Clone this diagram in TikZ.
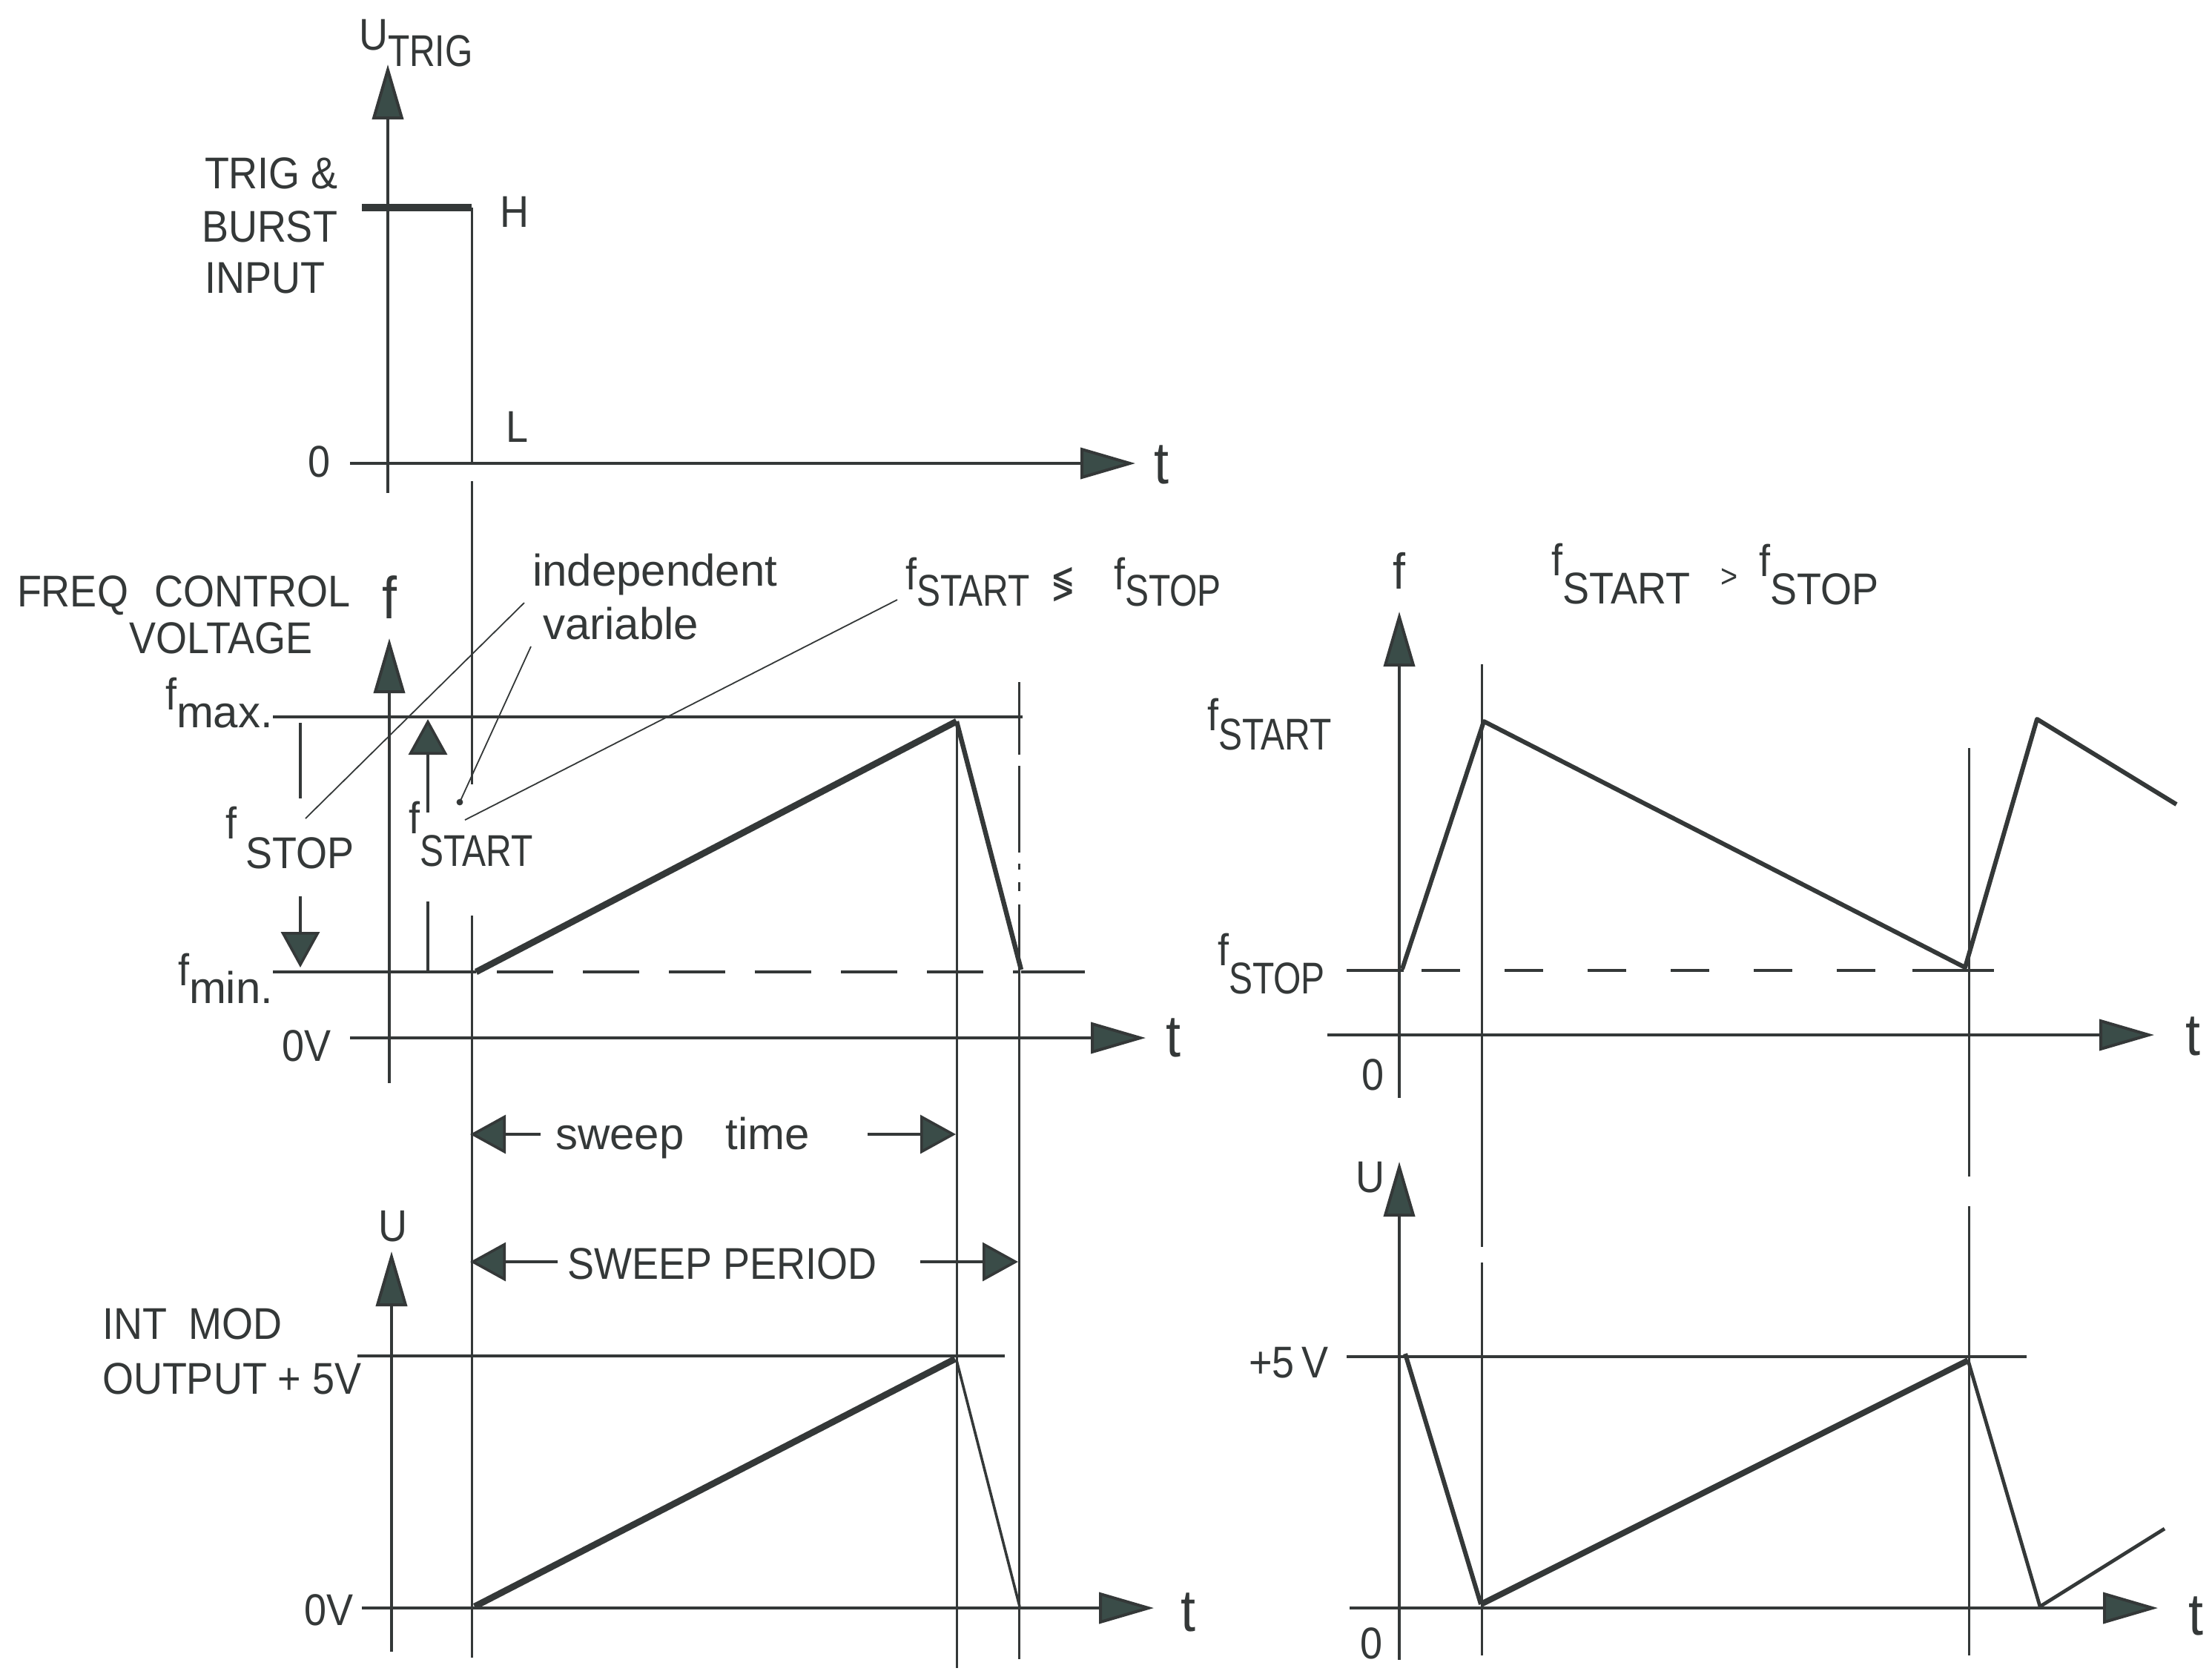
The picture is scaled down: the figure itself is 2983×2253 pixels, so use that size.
\documentclass[tikz,border=0pt]{standalone}
\usepackage{fontspec}
\setmainfont{Liberation Sans}[FakeStretch=0.9]
\newfontfamily\lcfont{Liberation Sans}
\newfontfamily\narrowfont{Liberation Sans}[FakeStretch=0.8]
\newfontfamily\symfont{DejaVu Sans}[FakeStretch=0.65]
\usetikzlibrary{arrows.meta}
\definecolor{ink}{RGB}{52,56,56}
\definecolor{headfill}{RGB}{58,76,72}
\newcommand{\lowsub}[3][5.5pt]{#2\raisebox{-#1}{#3}}

\tikzset{every picture/.style={line width=1pt},
  lbl/.style={inner sep=0pt, text=ink, font=\fontsize{15}{18}\selectfont},
  lclbl/.style={inner sep=0pt, text=ink, font=\lcfont\fontsize{15}{18}\selectfont},
  axislbl/.style={inner sep=0pt, text=ink, font=\fontsize{20}{24}\selectfont},
  axis/.style={draw=ink, line width=1pt, -{Triangle[length=18.5pt,width=10.5pt,fill=headfill]}},
  dimarrow/.style={draw=ink, line width=0.9pt, -{Triangle[length=12pt,width=13pt,fill=headfill]}},
  marker/.style={draw=ink, line width=0.75pt},
  leader/.style={draw=ink, line width=0.45pt},
  level/.style={draw=ink, line width=1pt},
  wave/.style={draw=ink, line width=1.5pt, line join=round},
  ramp/.style={draw=ink, line width=2.2pt, line join=round}}

\begin{document}
\begin{tikzpicture}[x=0.25pt,y=0.25pt,yscale=-1,xscale=1]
\useasboundingbox (0,0) rectangle (2983,2253);

%Straight Lines: trigger input
\draw [axis] (523,665) -- (523,87);
\draw [axis] (472,625) -- (1531,625);
\draw [draw=ink, line width=2.6pt] (488,280) -- (636,280);
\draw [marker] (636,280) -- (636,625);
\draw [marker] (636,649) -- (636,1058);
\draw [marker] (636,1235) -- (636,2236);

%Straight Lines: frequency control voltage
\draw [axis] (525,1461) -- (525,861);
\draw [axis] (472,1400) -- (1545,1400);
\draw [level] (368,967) -- (1379,967);
\draw [level] (368,1311) -- (642,1311);
\draw [level, dash pattern=on 19pt off 10pt] (670,1311) -- (1373,1311);
\draw [ramp] (642,1311) -- (1290,973);
\draw [wave, line width=1.6pt] (1290,973) -- (1377,1308);
\draw [level] (1377,1311) -- (1463,1311);
\draw [marker] (1290,973) -- (1290,2250);
%dash-dot marker
\draw [marker] (1374,920) -- (1374,1018);
\draw [marker] (1374,1033) -- (1374,1150);
\draw [marker] (1374,1165) -- (1374,1173);
\draw [marker] (1374,1190) -- (1374,1202);
\draw [marker] (1374,1220) -- (1374,2238);

%Straight Lines: f stop / f start arrows
\draw [marker, line width=0.9pt] (405,975) -- (405,1077);
\draw [dimarrow] (405,1209) -- (405,1305);
\draw [dimarrow] (577,1096) -- (577,970);
\draw [marker, line width=0.9pt] (577,1216) -- (577,1311);

%Straight Lines: leaders
\draw [leader] (707,813) -- (412,1104);
\draw [leader] (716,872) -- (620,1082);
\fill [ink] (620,1082) circle (1.1pt);
\draw [leader] (1210,809) -- (627,1106);

%Straight Lines: sweep time / period
\draw [dimarrow] (729,1530) -- (634,1530);
\draw [dimarrow] (1170,1530) -- (1289,1530);
\draw [dimarrow] (752,1702) -- (634,1702);
\draw [dimarrow] (1241,1702) -- (1373,1702);

%Straight Lines: int mod output
\draw [axis] (528,2228) -- (528,1688);
\draw [axis] (488,2169) -- (1556,2169);
\draw [level] (482,1829) -- (1355,1829);
\draw [ramp] (640,2167) -- (1288,1833);
\draw [marker, line width=0.9pt] (1290,1835) -- (1375,2167);

%Straight Lines: f start > f stop
\draw [axis] (1887,1481) -- (1887,825);
\draw [axis] (1790,1396) -- (2905,1396);
\draw [level] (1816,1309) -- (1893,1309);
\draw [level, dash pattern=on 13pt off 15pt] (1917,1309) -- (2579,1309);
\draw [level] (2579,1309) -- (2689,1309);
\draw [wave] (1891,1307) -- (2001,973) -- (2650,1305) -- (2747,970) -- (2935,1085);
\draw [marker] (1998,896) -- (1998,1682);
\draw [marker] (1998,1703) -- (1998,2233);
\draw [marker] (2655,1009) -- (2655,1587);
\draw [marker] (2655,1627) -- (2655,2233);

%Straight Lines: right int mod output
\draw [axis] (1887,2239) -- (1887,1567);
\draw [axis] (1820,2169) -- (2910,2169);
\draw [level] (1816,1830) -- (2733,1830);
\draw [wave] (1895,1826) -- (1997,2164);
\draw [ramp, line width=2pt] (1997,2164) -- (2654,1835);
\draw [wave, line width=1.2pt] (2654,1835) -- (2751,2167) -- (2919,2062);

% Text Node
\node (utrig) [lbl, anchor=base west] at (482,67) {\lowsub{U}{\narrowfont TRIG}};
% Text Node
\node (trigA) [lbl, anchor=base west] at (274,254) {TRIG \&};
% Text Node
\node (trigB) [lbl, anchor=base west] at (270,326) {BURST};
% Text Node
\node (trigC) [lbl, anchor=base west] at (274,395) {INPUT};
% Text Node
\node (zeroA) [lbl, anchor=base east] at (448,643) {0};
% Text Node
\node (lvlH) [lbl, anchor=base west] at (672,306) {H};
% Text Node
\node (lvlL) [lbl, anchor=base west] at (680,596) {L};
% Text Node
\node (tA) [axislbl, anchor=base west] at (1554,652) {t};
% Text Node
\node (freq) [lbl, anchor=base west] at (21,818) {FREQ\hspace{0.6em}CONTROL};
% Text Node
\node (volt) [lbl, anchor=base west] at (172,881) {VOLTAGE};
% Text Node
\node (fA) [axislbl, anchor=base] at (525,834) {f};
% Text Node
\node (fmax) [lbl, anchor=base west] at (221,957) {\lowsub[6pt]{f}{\lcfont max.}};
% Text Node
\node (fmin) [lbl, anchor=base west] at (238,1329) {\lowsub[6pt]{f}{\lcfont min.}};
% Text Node
\node (zeroV) [lbl, anchor=base east] at (449,1431) {0V};
% Text Node
\node (fstop) [lbl, anchor=base west] at (302,1131) {\lowsub[10pt]{f\hspace{3pt}}{STOP}};
% Text Node
\node (fstart) [lbl, anchor=base west] at (549,1124) {\lowsub[11pt]{f}{\narrowfont START}};
% Text Node
\node (indep) [lclbl, anchor=base west] at (716,790) {independent};
% Text Node
\node (var) [lclbl, anchor=base west] at (730,862) {variable};
% Text Node
\node (tB) [axislbl, anchor=base west] at (1570,1425) {t};
% Text Node
\node (fsa) [lbl, anchor=base west] at (1219,795) {\lowsub{f}{\narrowfont START}};
% Text Node
\node (cmp) [lbl, font=\symfont\fontsize{15}{18}\selectfont, anchor=base west] at (1415,806) {≶};
% Text Node
\node (fso) [lbl, anchor=base west] at (1500,795) {\lowsub{f}{\narrowfont STOP}};
% Text Node
\node (fC) [lbl, font=\fontsize{17}{20}\selectfont, anchor=base] at (1887,794) {f};
% Text Node
\node (gtA) [lbl, anchor=base west] at (2090,776) {\lowsub[9.5pt]{f}{START}};
% Text Node
\node (gtB) [lbl, font=\fontsize{11}{13}\selectfont, anchor=base west] at (2318,792) {>};
% Text Node
\node (gtC) [lbl, anchor=base west] at (2370,777) {\lowsub[9.5pt]{f}{STOP}};
% Text Node
\node (rfstart) [lbl, anchor=base west] at (1626,985) {\lowsub[6.5pt]{f}{\narrowfont START}};
% Text Node
\node (rfstop) [lbl, anchor=base west] at (1640,1302) {\lowsub[9.5pt]{f}{\narrowfont STOP}};
% Text Node
\node (zeroB) [lbl, anchor=base west] at (1834,1470) {0};
% Text Node
\node (tC) [axislbl, anchor=base west] at (2945,1423) {t};
% Text Node
\node (sweept) [lclbl, anchor=base west] at (747,1550) {sweep\hspace{14pt}time};
% Text Node
\node (sweepp) [lbl, anchor=base west] at (763,1725) {SWEEP PERIOD};
% Text Node
\node (uB) [lbl, anchor=base] at (530,1674) {U};
% Text Node
\node (intmod) [lbl, anchor=base west] at (136,1806) {INT\hspace{0.5em}MOD};
% Text Node
\node (output) [lbl, anchor=base west] at (136,1880) {OUTPUT + 5V};
% Text Node
\node (zeroVb) [lbl, anchor=base east] at (479,2192) {0V};
% Text Node
\node (tD) [axislbl, anchor=base west] at (1590,2200) {t};
% Text Node
\node (uC) [lbl, anchor=base west] at (1826,1608) {U};
% Text Node
\node (plus5) [lbl, anchor=base east] at (1794,1858) {+5\,V};
% Text Node
\node (zeroC) [lbl, anchor=base west] at (1832,2237) {0};
% Text Node
\node (tE) [axislbl, anchor=base west] at (2949,2205) {t};

\end{tikzpicture}
\end{document}
